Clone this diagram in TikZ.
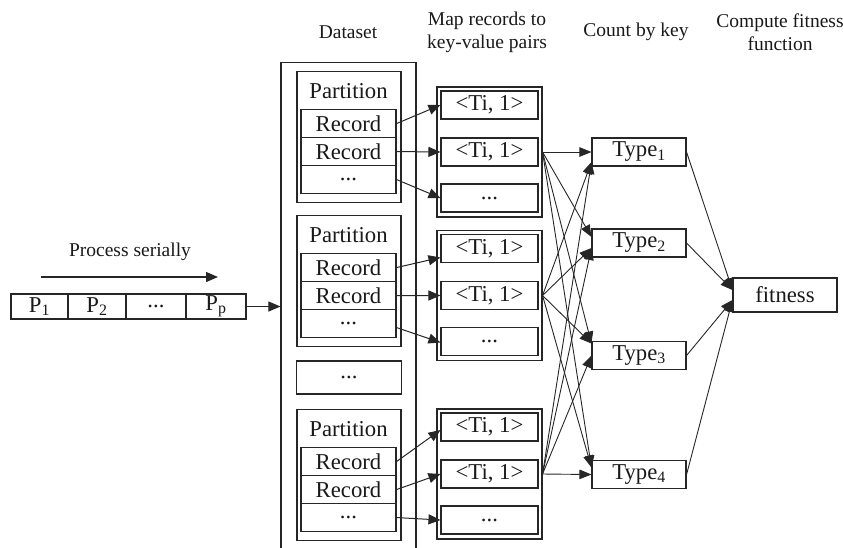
\documentclass[tikz,border=0pt]{standalone}
\usepackage{fontspec}
\setmainfont{Liberation Serif}
\usetikzlibrary{arrows.meta,calc}
\newcommand{\bigfnt}{\fontsize{22.7}{26}\selectfont}
\newcommand{\hdrfnt}{\fontsize{19.5}{23}\selectfont}
\begin{document}
\begin{tikzpicture}[x=1pt,y=-1pt,
  box/.style={draw=black!85, line width=1.1pt, inner sep=0pt, font=\bigfnt, text=black!90},
  hdr/.style={inner sep=0pt, font=\hdrfnt, align=center, text=black!90},
  arr/.style={draw=black!85, line width=1pt, -{Triangle[length=12pt,width=10pt]}},
  thin/.style={draw=black!85, line width=0.9pt, -{Triangle[length=12pt,width=9.5pt]}}]
\useasboundingbox (0,0) rectangle (843,547);

% headers
\node[hdr] (hds) at (348,32) {Dataset};
\node[hdr] (hmap) at (487,32.5) {Map records to\\key-value pairs};
\node[hdr] (hcnt) at (636,32) {Count by key};
\node[hdr] (hfit) at (780,32.5) {Compute fitness\\function};

% dataset outer box (runs off the bottom)
\node[box, minimum width=135pt, minimum height=540pt, anchor=north] (ds) at (348.5,62) {};

% partitions
\foreach \i/\o in {1/0,2/144,3/338}{
  \node[box, minimum width=104pt, minimum height=131pt, anchor=north] (p\i) at (349,71+\o) {};
  \node[inner sep=0pt, font=\bigfnt, text=black!90] (pt\i) at (348.5,91+\o) {Partition};
  \node[box, minimum width=95pt, minimum height=28pt, anchor=north] (r\i1) at (348.5,109+\o) {Record};
  \node[box, minimum width=95pt, minimum height=28pt, anchor=north] (r\i2) at (348.5,137+\o) {Record};
  \node[box, minimum width=95pt, minimum height=28pt, anchor=north] (r\i3) at (348.5,165+\o) {...};
}
\node[box, minimum width=105pt, minimum height=33pt] (pdots) at (349,377.5) {...};

% key-value groups
\foreach \i/\o in {1/0,2/143.5,3/322}{
  \node[box, minimum width=105pt, minimum height=130pt] (g\i) at (489.5,152+\o) {};
  \node[box, minimum width=97pt, minimum height=28pt] (k\i1) at (489.5,105+\o) {<Ti, 1>};
  \node[box, minimum width=97pt, minimum height=28pt] (k\i2) at (489.5,152+\o) {<Ti, 1>};
  \node[box, minimum width=97pt, minimum height=28pt] (k\i3) at (489.5,198+\o) {...};
  \coordinate (s\i) at (g\i.east |- k\i2.east);
}

% record -> key-value arrows
\draw[arr] (r11.east) -- (k11.west);
\draw[arr] (r12.east) -- (k12.west);
\draw[arr] (r13.east) -- (k13.west);
\draw[arr] (r21.east) -- ([yshift=-9pt]k21.west);
\draw[arr] (r22.east) -- (k22.west);
\draw[arr] ([yshift=-4pt]r23.east) -- ([yshift=-1pt]k23.west);
\draw[arr] (r31.east) -- ([yshift=-3pt]k31.west);
\draw[arr] (r32.east) -- (k32.west);
\draw[arr] (r33.east) -- (k33.west);

% types
\node[box, minimum width=94pt, minimum height=28pt] (t1) at (639,152) {Type\textsubscript{1}};
\node[box, minimum width=94pt, minimum height=28pt] (t2) at (639,243) {Type\textsubscript{2}};
\node[box, minimum width=94pt, minimum height=28pt] (t3) at (639,355.5) {Type\textsubscript{3}};
\node[box, minimum width=94pt, minimum height=28pt] (t4) at (639,474.5) {Type\textsubscript{4}};
\node[box, minimum width=104pt, minimum height=34pt] (fit) at (785,295) {fitness};

% fan of arrows
\draw[thin] (s1) -- (t1.west);
\draw[thin] (s1) -- ([yshift=6pt]t2.west);
\draw[thin] (s1) -- ([yshift=12pt]t3.west);
\draw[thin] (s1) -- ([yshift=7pt]t4.west);
\draw[thin] (s2) -- ([yshift=-10pt]t1.west);
\draw[thin] (s2) -- ([yshift=-5pt]t2.west);
\draw[thin] (s2) -- ([yshift=12pt]t3.west);
\draw[thin] (s2) -- ([yshift=7pt]t4.west);
\draw[thin] (s3) -- ([yshift=-10pt]t1.west);
\draw[thin] (s3) -- ([yshift=-5pt]t2.west);
\draw[thin] (s3) -- (t3.west);
\draw[thin] (s3) -- (t4.west);

% types -> fitness
\draw[thin] (t1.east) -- ([yshift=5pt]fit.west);
\draw[thin] (t2.east) -- ([yshift=5pt]fit.west);
\draw[thin] (t3.east) -- ([yshift=-5pt]fit.west);
\draw[thin] (t4.east) -- ([yshift=-5pt]fit.west);

% serial process row
\node[box, minimum width=57pt, minimum height=25pt] (c1) at (39.5,306.5) {P\textsubscript{1}};
\node[box, minimum width=58pt, minimum height=25pt] (c2) at (97,306.5) {P\textsubscript{2}};
\node[box, minimum width=60pt, minimum height=25pt] (c3) at (156,306.5) {...};
\node[box, minimum width=60pt, minimum height=25pt] (c4) at (216,306.5) {P\textsubscript{p}};
\draw[arr] (c4.east) -- (c4.east -| ds.west);

\node[hdr] (hps) at (130,252) {Process serially};
\coordinate (psa) at (41,277);
\coordinate (psb) at (218,277);
\draw[arr, line width=1.3pt] (psa) -- (psb);
\end{tikzpicture}
\end{document}
